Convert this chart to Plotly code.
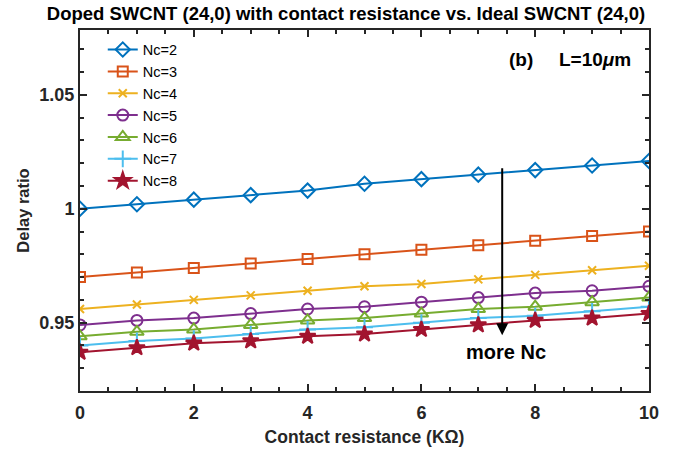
import plotly.graph_objects as go

x_vals = [0, 1, 2, 3, 4, 5, 6, 7, 8, 9, 10]
nc2 = [1.000, 1.002, 1.004, 1.006, 1.008, 1.011, 1.013, 1.015, 1.017, 1.019, 1.021]
nc3 = [0.970, 0.972, 0.974, 0.976, 0.978, 0.980, 0.982, 0.984, 0.986, 0.988, 0.990]
nc4 = [0.956, 0.958, 0.960, 0.962, 0.964, 0.966, 0.967, 0.969, 0.971, 0.973, 0.975]
nc5 = [0.949, 0.951, 0.952, 0.954, 0.956, 0.957, 0.959, 0.961, 0.963, 0.964, 0.966]
nc6 = [0.944, 0.946, 0.947, 0.949, 0.951, 0.952, 0.954, 0.956, 0.957, 0.959, 0.961]
nc7 = [0.940, 0.942, 0.943, 0.945, 0.947, 0.948, 0.950, 0.952, 0.953, 0.955, 0.957]
nc8 = [0.937, 0.939, 0.941, 0.942, 0.944, 0.945, 0.947, 0.949, 0.951, 0.952, 0.954]

names = ["Nc=2", "Nc=3", "Nc=4", "Nc=5", "Nc=6", "Nc=7", "Nc=8"]
series = [nc2, nc3, nc4, nc5, nc6, nc7, nc8]
colors = ["#0072BD", "#D95319", "#EDB120", "#7E2F8E", "#77AC30", "#4DBEEE", "#A2142F"]
symbols = ["diamond-open", "square-open", "x-thin-open", "circle-open",
           "triangle-up-open", "cross-thin-open", "star"]
sizes = [11, 10, 8, 11, 12, 12, 12]

fig = go.Figure()
for n, s, c, m, sz in zip(names, series, colors, symbols, sizes):
    fig.add_trace(go.Scatter(
        x=x_vals, y=s, name=n, mode="lines+markers",
        line=dict(color=c, width=2),
        marker=dict(symbol=m, size=sz, color=c, line=dict(color=c, width=2)),
    ))

font_family = "Liberation Sans, Arial, sans-serif"
fig.update_layout(
    width=692, height=457,
    margin=dict(l=80, r=43, t=30, b=66),
    paper_bgcolor="white", plot_bgcolor="white",
    font=dict(family=font_family, color="#262626"),
    title=dict(text="<b>Doped SWCNT (24,0) with contact resistance vs. Ideal SWCNT (24,0)</b>",
               x=0.5, xanchor="center", y=0.985, yanchor="top",
               font=dict(size=18.5, color="black")),
    showlegend=True,
    legend=dict(x=0.04, y=0.99, xanchor="left", yanchor="top",
                bgcolor="rgba(255,255,255,0)", borderwidth=0,
                font=dict(size=14.5, color="black"), tracegroupgap=0),
    xaxis=dict(range=[0, 10], tickvals=[0, 2, 4, 6, 8, 10],
               ticks="inside", ticklen=7, tickwidth=1.5, tickcolor="#262626",
               minor=dict(dtick=0.5, ticks="inside", ticklen=4, tickcolor="#262626"),
               showline=True, linecolor="#262626", linewidth=2, mirror="allticks",
               showgrid=False, zeroline=False, ticklabelstandoff=4,
               tickfont=dict(size=18, family=font_family, color="#262626", weight="bold"),
               title=dict(text="<b>Contact resistance (KΩ)</b>", font=dict(size=17.5, color="#262626"),
                          standoff=9)),
    yaxis=dict(range=[0.92, 1.0785], tickvals=[0.95, 1.0, 1.05], ticktext=["0.95", "1", "1.05"],
               ticks="inside", ticklen=7, tickwidth=1.5, tickcolor="#262626",
               minor=dict(dtick=0.01, tick0=0.92, ticks="inside", ticklen=4, tickcolor="#262626"),
               showline=True, linecolor="#262626", linewidth=2, mirror="allticks",
               showgrid=False, zeroline=False,
               tickfont=dict(size=18, family=font_family, color="#262626", weight="bold"),
               title=dict(text="<b>Delay ratio</b>", font=dict(size=16.5, color="#262626"),
                          standoff=6)),
)

fig.add_annotation(x=7.42, y=0.9445, ax=7.42, ay=1.0185, xref="x", yref="y",
                   axref="x", ayref="y", showarrow=True, arrowhead=2, arrowsize=1.2,
                   arrowwidth=2, arrowcolor="black", text="")
fig.add_annotation(x=7.49, y=0.9373, xref="x", yref="y", showarrow=False,
                   text="<b>more Nc</b>", font=dict(size=20, color="black"))
fig.add_annotation(x=7.75, y=1.0654, xref="x", yref="y", showarrow=False,
                   text="<b>(b)</b>", font=dict(size=19, color="black"))
fig.add_annotation(x=9.05, y=1.0654, xref="x", yref="y", showarrow=False,
                   text="<b>L=10<i>μ</i>m</b>", font=dict(size=19, color="black"))

fig.write_html("out.html")
